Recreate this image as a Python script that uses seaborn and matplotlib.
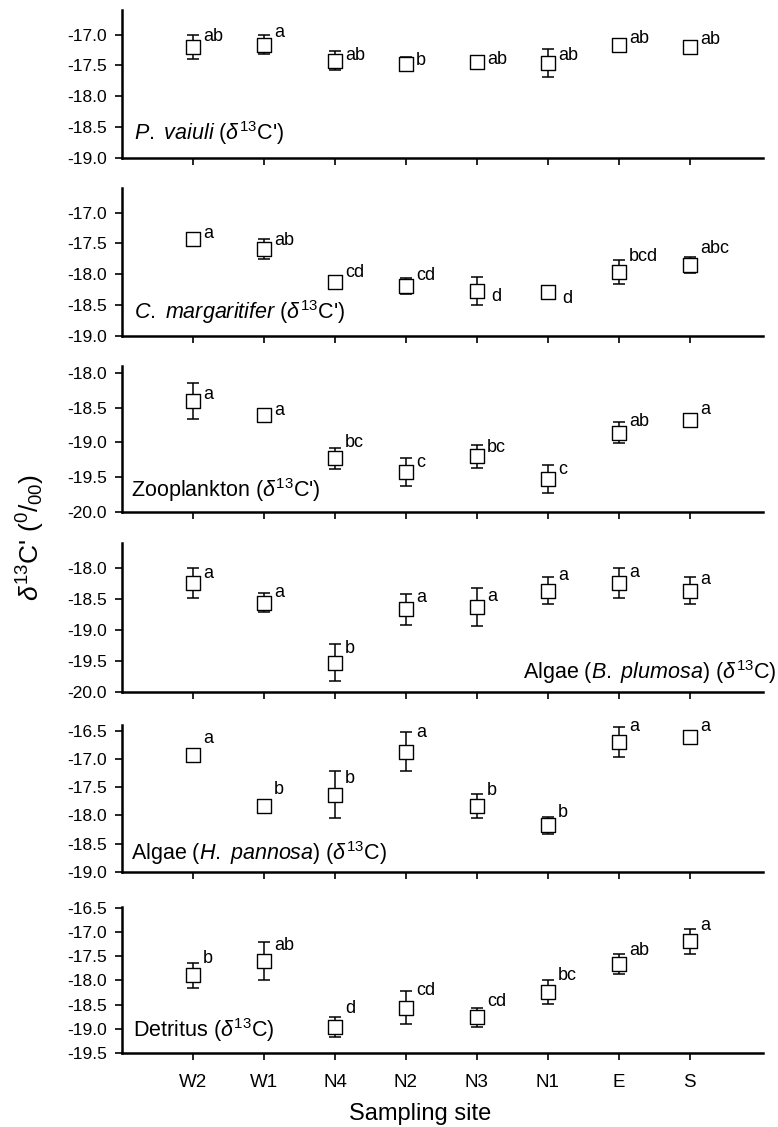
import numpy as np
import pandas as pd
import seaborn as sns
import matplotlib.pyplot as plt

sns.set_style("ticks")
plt.rcParams['font.family'] = ['Liberation Sans', 'DejaVu Sans']
plt.rcParams['mathtext.fontset'] = 'custom'
plt.rcParams['mathtext.rm'] = 'Liberation Sans'
plt.rcParams['mathtext.it'] = 'Liberation Sans:italic'
plt.rcParams['mathtext.bf'] = 'Liberation Sans:bold'
for key in ['text.color', 'xtick.color', 'ytick.color', 'axes.labelcolor',
            'axes.edgecolor']:
    plt.rcParams[key] = 'black'

# sampling sites (x categories)
sites = ["W2", "W1", "N4", "N2", "N3", "N1", "E", "S"]

# P. vaiuli
vaiuli_mean = [-17.20, -17.16, -17.42, -17.47, -17.45, -17.46, -17.17, -17.20]
vaiuli_err = [0.19, 0.16, 0.16, 0.11, 0.04, 0.23, 0.04, 0.04]
vaiuli_grp = ["ab", "a", "ab", "b", "ab", "ab", "ab", "ab"]

# C. margaritifer
marg_mean = [-17.42, -17.59, -18.12, -18.19, -18.27, -18.29, -17.96, -17.85]
marg_err = [0.05, 0.16, 0.05, 0.13, 0.23, 0.05, 0.19, 0.13]
marg_grp = ["a", "ab", "cd", "cd", "d", "d", "bcd", "abc"]

# Zooplankton
zoo_mean = [-18.40, -18.60, -19.23, -19.43, -19.20, -19.53, -18.86, -18.67]
zoo_err = [0.26, 0.04, 0.15, 0.20, 0.17, 0.20, 0.15, 0.05]
zoo_grp = ["a", "a", "bc", "c", "bc", "c", "ab", "a"]

# Algae B. plumosa
plum_mean = [-18.24, -18.56, -19.53, -18.67, -18.63, -18.37, -18.24, -18.37]
plum_err = [0.24, 0.15, 0.30, 0.25, 0.31, 0.22, 0.24, 0.22]
plum_grp = ["a", "a", "b", "a", "a", "a", "a", "a"]

# Algae H. pannosa
pann_mean = [-16.93, -17.83, -17.63, -16.87, -17.83, -18.17, -16.70, -16.62]
pann_err = [0.05, 0.05, 0.41, 0.34, 0.21, 0.15, 0.26, 0.05]
pann_grp = ["a", "b", "b", "a", "b", "b", "a", "a"]

# Detritus
det_mean = [-17.89, -17.60, -18.96, -18.56, -18.76, -18.23, -17.66, -17.19]
det_err = [0.26, 0.40, 0.20, 0.35, 0.20, 0.25, 0.20, 0.26]
det_grp = ["b", "ab", "d", "cd", "cd", "bc", "ab", "a"]

panels = [
    dict(mean=vaiuli_mean, err=vaiuli_err, grp=vaiuli_grp,
         title=r"$\mathit{P.\ vaiuli}$ ($\delta^{13}$C')",
         ylim=(-19.0, -16.6), ticks=np.arange(-19.0, -16.9, 0.5),
         tpos=(0.018, 0.17, "left"), dy=[10, 12, 5, 3, 3, 8, 7, 7]),
    dict(mean=marg_mean, err=marg_err, grp=marg_grp,
         title=r"$\mathit{C.\ margaritifer}$ ($\delta^{13}$C')",
         ylim=(-19.0, -16.6), ticks=np.arange(-19.0, -16.9, 0.5),
         tpos=(0.018, 0.164, "left"), dy=[5, 9, 9, 11, -6, -6, 15, 17]),
    dict(mean=zoo_mean, err=zoo_err, grp=zoo_grp,
         title=r"Zooplankton ($\delta^{13}$C')",
         ylim=(-20.0, -17.9), ticks=np.arange(-20.0, -17.9, 0.5),
         tpos=(0.014, 0.15, "left"), dy=[6, 4, 16, 10, 9, 10, 11, 10]),
    dict(mean=plum_mean, err=plum_err, grp=plum_grp,
         title=r"Algae ($\mathit{B.\ plumosa}$) ($\delta^{13}$C)",
         ylim=(-20.0, -17.6), ticks=np.arange(-20.0, -17.9, 0.5),
         tpos=(1.021, 0.136, "right"), dy=[9, 10, 14, 12, 10, 15, 10, 11]),
    dict(mean=pann_mean, err=pann_err, grp=pann_grp,
         title=r"Algae ($\mathit{H.\ pannosa}$) ($\delta^{13}$C)",
         ylim=(-19.0, -16.4), ticks=np.arange(-19.0, -16.4, 0.5),
         tpos=(0.014, 0.13, "left"), dy=[16, 16, 16, 19, 15, 13, 15, 11]),
    dict(mean=det_mean, err=det_err, grp=det_grp,
         title=r"Detritus ($\delta^{13}$C)",
         ylim=(-19.5, -16.48), ticks=np.arange(-19.5, -16.4, 0.5),
         tpos=(0.017, 0.158, "left"), dy=[17, 16, 18, 17, 16, 16, 14, 16]),
]

W, H = 778, 1127
fig = plt.figure(figsize=(W / 100, H / 100), dpi=100)

tops = [10, 188, 366, 543, 725, 907]
bots = [158, 336, 512, 692, 872, 1053]
x_left, x_right = 122, 763

xpos = np.arange(1, len(sites) + 1)

for i, p in enumerate(panels):
    ax = fig.add_axes([x_left / W, 1 - bots[i] / H,
                       (x_right - x_left) / W, (bots[i] - tops[i]) / H])
    df = pd.DataFrame({"x": xpos, "y": p["mean"], "err": p["err"]})
    ax.errorbar(df["x"], df["y"], yerr=df["err"], fmt="none", ecolor="black",
                elinewidth=1.1, capsize=4, capthick=1.1, zorder=2)
    sns.scatterplot(data=df, x="x", y="y", marker="s", s=95, color="white",
                    edgecolor="black", linewidth=1.0, ax=ax, zorder=3,
                    legend=False)
    for xi, yi, g, d in zip(xpos, p["mean"], p["grp"], p["dy"]):
        dx = 14 if d < 0 else 10
        ax.annotate(g, (xi, yi), xytext=(dx, d), textcoords="offset pixels",
                    ha="left", va="center", fontsize=13)
    tx, ty, tha = p["tpos"]
    ax.text(tx, ty, p["title"], transform=ax.transAxes, ha=tha, va="center",
            fontsize=15.5, clip_on=False)

    ax.set_xlim(0, 9.03)
    ax.set_ylim(*p["ylim"])
    ax.set_yticks(p["ticks"])
    ax.set_yticklabels([f"{t:.1f}" for t in p["ticks"]], fontsize=12.5)
    ax.set_xticks(xpos)
    if i == len(panels) - 1:
        ax.set_xticklabels(sites, fontsize=13.5)
    else:
        ax.set_xticklabels([])
    ax.tick_params(axis="x", length=5, width=1.2, pad=10, direction="out")
    ax.tick_params(axis="y", length=5, width=1.2, pad=6, direction="out")
    ax.set_xlabel("")
    ax.set_ylabel("")
    sns.despine(ax=ax)
    for s in ["left", "bottom"]:
        ax.spines[s].set_linewidth(1.8)

fig.text(31 / W, 1 - 537 / H, r"$\delta^{13}$C' ($^{0}$/$_{00}$)",
         rotation=90, ha="center", va="center", fontsize=19)
fig.text(420 / W, 1 - 1114 / H, "Sampling site", ha="center", va="center",
         fontsize=17)

fig.savefig("out.png", dpi=100)
